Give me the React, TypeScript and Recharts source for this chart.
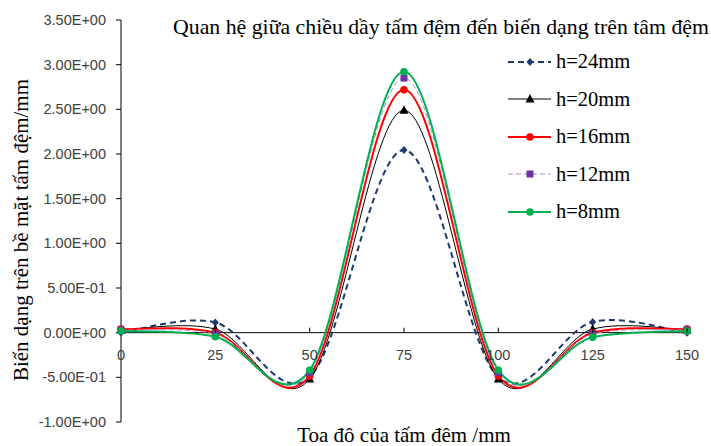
import React from 'react';
import { LineChart, Line, XAxis, YAxis, ReferenceLine } from 'recharts';

const X_POS = [0, 25, 50, 75, 100, 125, 150];
const H24 = [0.0, 0.115, -0.5, 2.045, -0.5, 0.12, 0.0];
const H20 = [0.03, 0.04, -0.52, 2.49, -0.52, 0.04, 0.03];
const H16 = [0.04, 0.0, -0.485, 2.72, -0.485, 0.0, 0.04];
const H12 = [0.03, -0.015, -0.45, 2.85, -0.45, -0.015, 0.03];
const H8 = [0.02, -0.045, -0.42, 2.92, -0.42, -0.05, 0.02];

const Y_TICKS = [-1, -0.5, 0, 0.5, 1, 1.5, 2, 2.5, 3, 3.5];
const SERIF = '"Liberation Serif", "Times New Roman", serif';
const SANS = '"Liberation Sans", Arial, sans-serif';

const W = 711;
const H = 446;
const M = { top: 20, right: 24, bottom: 0, left: 0 };
const Y_AXIS_W = 121;
const X_AXIS_H = 24;
const PLOT_H = H - M.top - M.bottom - X_AXIS_H;
const Y_MIN = -1;
const Y_MAX = 3.5;
const ZERO_Y = M.top + (PLOT_H * Y_MAX) / (Y_MAX - Y_MIN);

const data = X_POS.map((x, i) => ({
  x,
  h24: H24[i],
  h20: H20[i],
  h16: H16[i],
  h12: H12[i],
  h8: H8[i],
}));

// Excel-style smoothed line: Catmull-Rom segments as cubic beziers
const smoothCurve = (ctx: any) => {
  let pts: number[][] = [];
  return {
    areaStart() {},
    areaEnd() {},
    lineStart() {
      pts = [];
    },
    point(x: number, y: number) {
      pts.push([+x, +y]);
    },
    lineEnd() {
      if (!pts.length) return;
      ctx.moveTo(pts[0][0], pts[0][1]);
      for (let i = 0; i < pts.length - 1; i++) {
        const p0 = pts[i - 1] || pts[i];
        const p1 = pts[i];
        const p2 = pts[i + 1];
        const p3 = pts[i + 2] || p2;
        ctx.bezierCurveTo(
          p1[0] + (p2[0] - p0[0]) / 6,
          p1[1] + (p2[1] - p0[1]) / 6,
          p2[0] - (p3[0] - p1[0]) / 6,
          p2[1] - (p3[1] - p1[1]) / 6,
          p2[0],
          p2[1]
        );
      }
    },
  };
};

type Marker = 'diamond' | 'triangle' | 'circle' | 'square';

const drawMarker = (kind: Marker, cx: number, cy: number, color: string, key?: any) => {
  if (kind === 'diamond') {
    return <path key={key} d={`M${cx},${cy - 4}L${cx + 3.5},${cy}L${cx},${cy + 4}L${cx - 3.5},${cy}Z`} fill={color} />;
  }
  if (kind === 'triangle') {
    return <path key={key} d={`M${cx},${cy - 5}L${cx + 4.5},${cy + 3.5}L${cx - 4.5},${cy + 3.5}Z`} fill={color} />;
  }
  if (kind === 'square') {
    return <rect key={key} x={cx - 3.5} y={cy - 3.5} width={7} height={7} fill={color} />;
  }
  return <circle key={key} cx={cx} cy={cy} r={3.8} fill={color} />;
};

const SERIES = [
  { key: 'h24', name: 'h=24mm', stroke: '#1F3A6E', width: 2, dash: '6 4', marker: 'diamond' as Marker, markColor: '#1F3A6E' },
  { key: 'h20', name: 'h=20mm', stroke: '#000000', width: 1, dash: undefined, marker: 'triangle' as Marker, markColor: '#000000' },
  { key: 'h16', name: 'h=16mm', stroke: '#FF0000', width: 2, dash: undefined, marker: 'circle' as Marker, markColor: '#FF0000' },
  { key: 'h12', name: 'h=12mm', stroke: '#A98BD6', width: 1, dash: '5 3', marker: 'square' as Marker, markColor: '#7030A0' },
  { key: 'h8', name: 'h=8mm', stroke: '#00B050', width: 2, dash: undefined, marker: 'circle' as Marker, markColor: '#00B050' },
];

const fmtExp = (v: number) => {
  const [m, e] = v.toExponential(2).split('e');
  return `${m}E${e[0]}${e.slice(1).padStart(2, '0')}`;
};

// x tick labels sit under the zero line rather than the bottom of the plot
const ZeroTick = (props: any) => {
  const { x, payload } = props;
  return (
    <g>
      {payload.value !== 0 && <line x1={x} x2={x} y1={ZERO_Y - 5} y2={ZERO_Y} stroke="#000" />}
      <text x={x} y={ZERO_Y + 27} textAnchor="middle" fontFamily={SANS} fontSize={14.5} fill="#404040">
        {payload.value}
      </text>
    </g>
  );
};

const LegendBox = () => (
  <div style={{ position: 'absolute', left: 505, top: 43 }}>
    {SERIES.map((s) => (
      <div key={s.key} style={{ display: 'flex', alignItems: 'center', height: 37.5 }}>
        <svg width={50} height={20}>
          <line x1={3} x2={46} y1={10} y2={10} stroke={s.stroke} strokeWidth={s.width} strokeDasharray={s.dash} />
          {drawMarker(s.marker, 25, 10, s.markColor)}
        </svg>
        <span style={{ fontFamily: SERIF, fontSize: 20.5, color: '#000', marginLeft: 1 }}>{s.name}</span>
      </div>
    ))}
  </div>
);

export default function App() {
  return (
    <div style={{ position: 'absolute', left: 0, top: 0, width: W, height: H, background: '#fff' }}>
      <LineChart width={W} height={H} data={data} margin={M}>
        <XAxis
          type="number"
          dataKey="x"
          domain={[0, 150]}
          ticks={X_POS}
          interval={0}
          height={X_AXIS_H}
          axisLine={false}
          tickLine={false}
          tick={<ZeroTick />}
        />
        <YAxis
          type="number"
          domain={[Y_MIN, Y_MAX]}
          ticks={Y_TICKS}
          interval={0}
          width={Y_AXIS_W}
          axisLine={{ stroke: '#000' }}
          tickLine={{ stroke: '#000' }}
          tickSize={5}
          tickMargin={10}
          tickFormatter={fmtExp}
          tick={{ fontFamily: SANS, fontSize: 14.5, fill: '#404040' }}
        />
        <ReferenceLine y={0} stroke="#000" strokeWidth={1} />
        {SERIES.map((s) => (
          <Line
            key={s.key}
            dataKey={s.key}
            name={s.name}
            type={smoothCurve as any}
            stroke={s.stroke}
            strokeWidth={s.width}
            strokeDasharray={s.dash}
            isAnimationActive={false}
            dot={(p: any) => drawMarker(s.marker, p.cx, p.cy, s.markColor, `${s.key}-${p.index}`)}
            activeDot={false}
          />
        ))}
        <text x={441} y={34} textAnchor="middle" fontFamily={SERIF} fontSize={21.8} fill="#000">
          Quan hệ giữa chiều dầy tấm đệm đến biến dạng trên tâm đệm
        </text>
        <text
          x={0}
          y={0}
          transform={`translate(28, 230) rotate(-90)`}
          textAnchor="middle"
          fontFamily={SERIF}
          fontSize={21}
          fill="#000"
        >
          Biến dạng trên bề mặt tấm đệm/mm
        </text>
        <text x={404} y={442} textAnchor="middle" fontFamily={SERIF} fontSize={21} fill="#000">
          Toa đô của tấm đêm /mm
        </text>
      </LineChart>
      <LegendBox />
    </div>
  );
}
